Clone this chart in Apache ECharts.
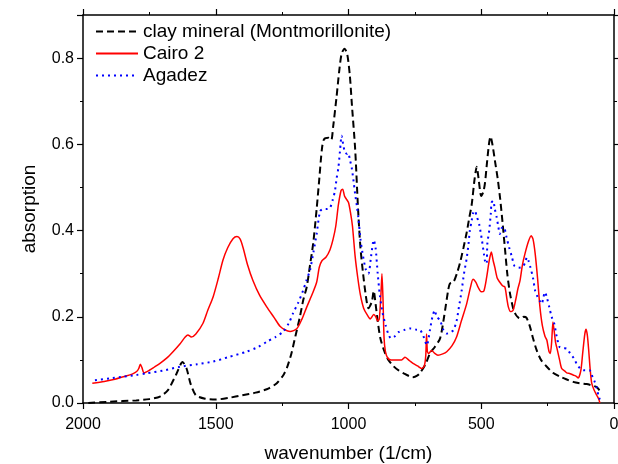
<!DOCTYPE html>
<html>
<head>
<meta charset="utf-8">
<script src="https://cdn.jsdelivr.net/npm/echarts@6/dist/echarts.min.js"></script>
<style>html,body{margin:0;padding:0;background:#fff}#c{width:618px;height:464px}</style>
</head>
<body>
<div id="c"></div>
<script>
const xTicks = [2000, 1500, 1000, 500, 0];
const yTicks = [0.0, 0.2, 0.4, 0.6, 0.8];
const seriesNames = ['clay mineral (Montmorillonite)', 'Cairo 2', 'Agadez'];

const clayX = [1980,1900,1800,1750,1710,1680,1650,1625,1610,1595,1575,1540,1500,1450,1400,1350,1300,1270,1245,1230,1215,1200,1183,1170,1157,1145,1133,1120,1110,1100,1092,1075,1065,1058,1045,1035,1026,1015,1005,995,987,975,964,955,945,935,925,912,905,898,890,880,865,850,830,810,790,770,757,740,730,710,693,675,655,640,625,618,605,592,580,567,555,545,536,525,517,510,500,492,486,478,470,465,458,448,438,429,420,411,402,392,380,370,360,350,340,330,316,305,291,275,253,230,203,180,154,130,103,85,65,55,47];
const clayY = [0.0,0.003,0.006,0.009,0.015,0.03,0.065,0.095,0.08,0.045,0.018,0.01,0.008,0.012,0.018,0.024,0.034,0.046,0.065,0.085,0.115,0.155,0.2,0.24,0.27,0.32,0.37,0.45,0.52,0.59,0.612,0.615,0.61,0.64,0.71,0.77,0.81,0.822,0.81,0.76,0.69,0.59,0.45,0.36,0.3,0.25,0.22,0.235,0.26,0.23,0.19,0.15,0.12,0.1,0.085,0.075,0.068,0.062,0.06,0.064,0.07,0.09,0.115,0.13,0.15,0.2,0.26,0.277,0.28,0.3,0.325,0.36,0.395,0.43,0.46,0.52,0.548,0.52,0.48,0.49,0.51,0.56,0.605,0.618,0.6,0.56,0.52,0.475,0.42,0.36,0.3,0.255,0.22,0.205,0.198,0.196,0.2,0.198,0.176,0.15,0.122,0.1,0.084,0.07,0.061,0.055,0.049,0.046,0.044,0.041,0.037,0.03,0.025];

const cairoX = [1965,1920,1880,1848,1815,1798,1790,1784,1778,1770,1750,1730,1710,1685,1661,1635,1615,1605,1592,1575,1548,1530,1510,1490,1473,1455,1435,1420,1408,1397,1380,1360,1335,1308,1280,1258,1240,1220,1195,1175,1157,1135,1120,1110,1100,1085,1070,1058,1048,1038,1028,1022,1015,1008,1000,992,985,975,965,955,943,930,918,905,897,890,884,878,874,870,866,861,853,840,820,800,787,770,757,740,725,715,709,706,703,698,687,675,663,645,630,610,593,575,555,540,531,520,512,500,490,480,470,462,455,449,440,430,420,411,403,398,390,380,370,362,354,345,335,322,312,305,297,288,279,270,260,253,245,240,235,230,226,220,216,205,197,185,178,165,154,142,135,125,118,110,105,100,95,90,84,75,65,58,53];
const cairoY = [0.046,0.05,0.055,0.061,0.067,0.073,0.08,0.09,0.082,0.07,0.076,0.084,0.092,0.104,0.119,0.137,0.153,0.158,0.153,0.16,0.185,0.215,0.246,0.29,0.331,0.36,0.381,0.386,0.38,0.36,0.32,0.284,0.25,0.223,0.198,0.178,0.17,0.166,0.172,0.195,0.223,0.255,0.28,0.315,0.33,0.338,0.355,0.38,0.41,0.46,0.493,0.496,0.48,0.473,0.465,0.44,0.41,0.34,0.29,0.25,0.22,0.205,0.195,0.205,0.2,0.19,0.195,0.25,0.3,0.24,0.15,0.12,0.105,0.1,0.1,0.1,0.106,0.098,0.092,0.086,0.08,0.085,0.11,0.16,0.12,0.115,0.122,0.115,0.111,0.114,0.119,0.133,0.153,0.19,0.23,0.27,0.287,0.28,0.269,0.258,0.26,0.29,0.33,0.35,0.33,0.315,0.29,0.28,0.272,0.269,0.24,0.223,0.212,0.215,0.24,0.265,0.284,0.32,0.347,0.375,0.388,0.38,0.347,0.29,0.223,0.18,0.155,0.146,0.12,0.115,0.14,0.188,0.17,0.14,0.13,0.1,0.08,0.074,0.07,0.068,0.065,0.062,0.058,0.075,0.115,0.16,0.171,0.155,0.12,0.08,0.046,0.03,0.018,0.01,0.0];

const agadezX = [1955,1900,1848,1800,1760,1700,1635,1570,1510,1450,1384,1340,1308,1275,1247,1225,1209,1190,1171,1158,1145,1132,1120,1107,1095,1082,1070,1060,1051,1045,1038,1032,1026,1020,1013,1005,1001,995,988,981,975,968,963,955,945,935,925,915,905,898,890,882,872,860,850,840,825,810,787,765,743,730,718,705,693,684,675,668,655,643,630,618,605,593,584,574,565,555,548,543,536,531,524,518,508,498,490,486,480,477,470,464,461,455,449,442,436,430,424,415,405,395,385,375,365,354,345,335,328,322,315,305,297,288,279,272,266,260,253,244,235,225,216,205,190,178,165,150,140,127,115,103,92,84,75,65,58,53];
const agadezY = [0.053,0.057,0.061,0.065,0.069,0.075,0.084,0.09,0.096,0.107,0.119,0.13,0.142,0.153,0.165,0.185,0.208,0.232,0.261,0.285,0.308,0.35,0.392,0.445,0.45,0.45,0.452,0.47,0.492,0.52,0.546,0.585,0.62,0.6,0.581,0.578,0.58,0.565,0.546,0.515,0.485,0.455,0.431,0.38,0.34,0.31,0.3,0.34,0.378,0.36,0.3,0.25,0.21,0.18,0.16,0.15,0.155,0.165,0.17,0.173,0.17,0.169,0.155,0.134,0.17,0.2,0.215,0.2,0.192,0.17,0.161,0.163,0.169,0.19,0.223,0.26,0.3,0.335,0.369,0.4,0.423,0.44,0.446,0.435,0.415,0.38,0.346,0.33,0.323,0.37,0.4,0.44,0.465,0.469,0.45,0.431,0.41,0.392,0.405,0.408,0.385,0.361,0.34,0.318,0.315,0.314,0.315,0.325,0.338,0.33,0.315,0.29,0.26,0.246,0.236,0.23,0.245,0.257,0.245,0.223,0.2,0.184,0.155,0.13,0.127,0.126,0.115,0.103,0.09,0.08,0.076,0.076,0.076,0.065,0.053,0.035,0.015,0.008,0.007];

function pairs(xs, ys) { return xs.map((x, i) => [x, ys[i]]); }

const FONT = 'Liberation Sans, Arial, sans-serif';
const chart = echarts.init(document.getElementById('c'), null, {renderer: 'canvas'});
const xBase = {
  type: 'value', min: 0, max: 2000, interval: 500, inverse: true,
  axisLine: {show: true, onZero: false, lineStyle: {color: '#000', width: 1.5}},
  splitLine: {show: false},
  minorTick: {show: true, splitNumber: 2, length: 3, lineStyle: {color: '#000', width: 1}},
};
const yBase = {
  type: 'value', min: 0, max: 0.9, interval: 0.2,
  axisLine: {show: true, onZero: false, lineStyle: {color: '#000', width: 1.5}},
  splitLine: {show: false},
  minorTick: {show: true, splitNumber: 2, length: 3, lineStyle: {color: '#000', width: 1}},
};
chart.setOption({
  animation: false,
  backgroundColor: '#fff',
  textStyle: {fontFamily: FONT},
  grid: {left: 83, right: 4, top: 15, bottom: 61, containLabel: false, outerBoundsMode: 'none'},
  legend: {
    data: seriesNames, orient: 'vertical', left: 90, top: 17,
    itemWidth: 42, itemHeight: 14, itemGap: 3,
    itemStyle: {opacity: 0, borderWidth: 0},
    textStyle: {fontFamily: FONT, fontSize: 19, color: '#000'}
  },
  xAxis: [
    Object.assign({}, xBase, {
      position: 'bottom',
      name: 'wavenumber (1/cm)', nameLocation: 'middle', nameGap: 41,
      nameTextStyle: {fontFamily: FONT, fontSize: 19, color: '#000'},
      axisTick: {show: true, inside: false, length: 6, lineStyle: {color: '#000', width: 1.2}},
      axisLabel: {show: true, margin: 14, fontFamily: FONT, fontSize: 16, color: '#000',
        hideOverlap: false,
        formatter: v => xTicks.includes(v) ? String(v) : ''}
    }),
    Object.assign({}, xBase, {
      position: 'top',
      axisTick: {show: true, inside: false, length: 6, lineStyle: {color: '#000', width: 1.2}},
      axisLabel: {show: false}
    })
  ],
  yAxis: [
    Object.assign({}, yBase, {
      position: 'left',
      name: 'absorption', nameLocation: 'middle', nameGap: 44, nameRotate: 90,
      nameTextStyle: {fontFamily: FONT, fontSize: 19, color: '#000'},
      axisTick: {show: true, inside: false, length: 6, lineStyle: {color: '#000', width: 1.2}},
      axisLabel: {show: true, margin: 9, fontFamily: FONT, fontSize: 16, color: '#000',
        showMaxLabel: false,
        formatter: v => yTicks.some(t => Math.abs(t - v) < 1e-9) ? v.toFixed(1) : ''}
    }),
    Object.assign({}, yBase, {
      position: 'right',
      axisTick: {show: true, inside: false, length: 6, lineStyle: {color: '#000', width: 1.2}},
      axisLabel: {show: false}
    })
  ],
  series: [
    {name: seriesNames[0], type: 'line', xAxisIndex: 0, yAxisIndex: 0, data: pairs(clayX, clayY),
     showSymbol: false, symbol: 'none', smooth: 0.25, color: '#000',
     lineStyle: {color: '#000', width: 2, type: [7, 4]}},
    {name: seriesNames[1], type: 'line', xAxisIndex: 0, yAxisIndex: 0, data: pairs(cairoX, cairoY),
     showSymbol: false, symbol: 'none', smooth: 0.25, color: '#ff0000',
     lineStyle: {color: '#ff0000', width: 1.5, type: 'solid'}},
    {name: seriesNames[2], type: 'line', xAxisIndex: 0, yAxisIndex: 0, data: pairs(agadezX, agadezY),
     showSymbol: false, symbol: 'none', smooth: 0.25, color: '#0000ff',
     lineStyle: {color: '#0000ff', width: 2, type: [2, 4]}}
  ]
});
</script>
</body>
</html>
